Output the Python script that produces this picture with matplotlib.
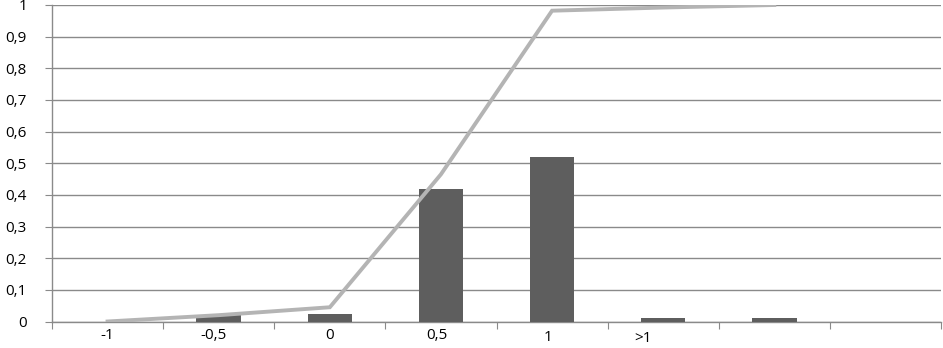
import numpy as np
import matplotlib
matplotlib.use('Agg')
import matplotlib.pyplot as plt
import matplotlib.transforms as mtransforms

### Values
categories = ['-1', '-0,5', '0', '0,5', '1', '>1', '', '']
freq = [0.0, 0.02, 0.025, 0.42, 0.52, 0.01, 0.01, 0.0]      # bars
cumul = [0.0, 0.02, 0.045, 0.465, 0.982, 0.992, 1.0]        # line (7 points)
yticks = [0, 0.1, 0.2, 0.3, 0.4, 0.5, 0.6, 0.7, 0.8, 0.9, 1]
ylabels = ['0', '0,1', '0,2', '0,3', '0,4', '0,5', '0,6', '0,7', '0,8', '0,9', '1']

plt.rcParams['font.family'] = ['Open Sans', 'DejaVu Sans']

fig = plt.figure(figsize=(9.43, 3.48), dpi=100)
ax = fig.add_axes([52/943., 26.5/348., 889/943., 316.5/348.])

x = np.arange(len(categories))
ax.bar(x, freq, width=0.4, color='#5e5e5e', zorder=3)
ax.plot(np.arange(len(cumul)), cumul, color='#b4b4b4', lw=2.8,
        solid_joinstyle='miter', zorder=4)

ax.set_xlim(-0.5, len(categories) - 0.5)
ax.set_ylim(0, 1)
ax.set_yticks(yticks)
ax.set_yticklabels(ylabels, fontsize=11)
ax.yaxis.grid(True, color='#8a8a8a', lw=1.0, zorder=0)

# category boundary ticks, labels at the centres
ax.set_xticks(np.arange(len(categories) + 1) - 0.5)
ax.set_xticklabels([])
ax.set_xticks(x, minor=True)
ax.set_xticklabels(categories, minor=True, fontsize=11)
ax.tick_params(axis='x', which='minor', length=0, pad=5)
ax.tick_params(axis='x', which='major', length=5, color='#8a8a8a', direction='out')
ax.tick_params(axis='y', length=5, color='#8a8a8a', pad=13)

# the scanned labels sit a little off centre
shifts = [(0, 0), (-5, 0), (0, 0), (-4, 0), (-4, -2), (-20, -3), (0, 0), (0, 0)]
for lab, (dx, dy) in zip(ax.get_xticklabels(minor=True), shifts):
    lab.set_transform(lab.get_transform() +
                      mtransforms.ScaledTranslation(dx/100., dy/100., fig.dpi_scale_trans))

for s in ['top', 'right']:
    ax.spines[s].set_visible(False)
for s in ['left', 'bottom']:
    ax.spines[s].set_color('#8a8a8a')
    ax.spines[s].set_linewidth(1.0)

fig.savefig('out.png', dpi=100)
